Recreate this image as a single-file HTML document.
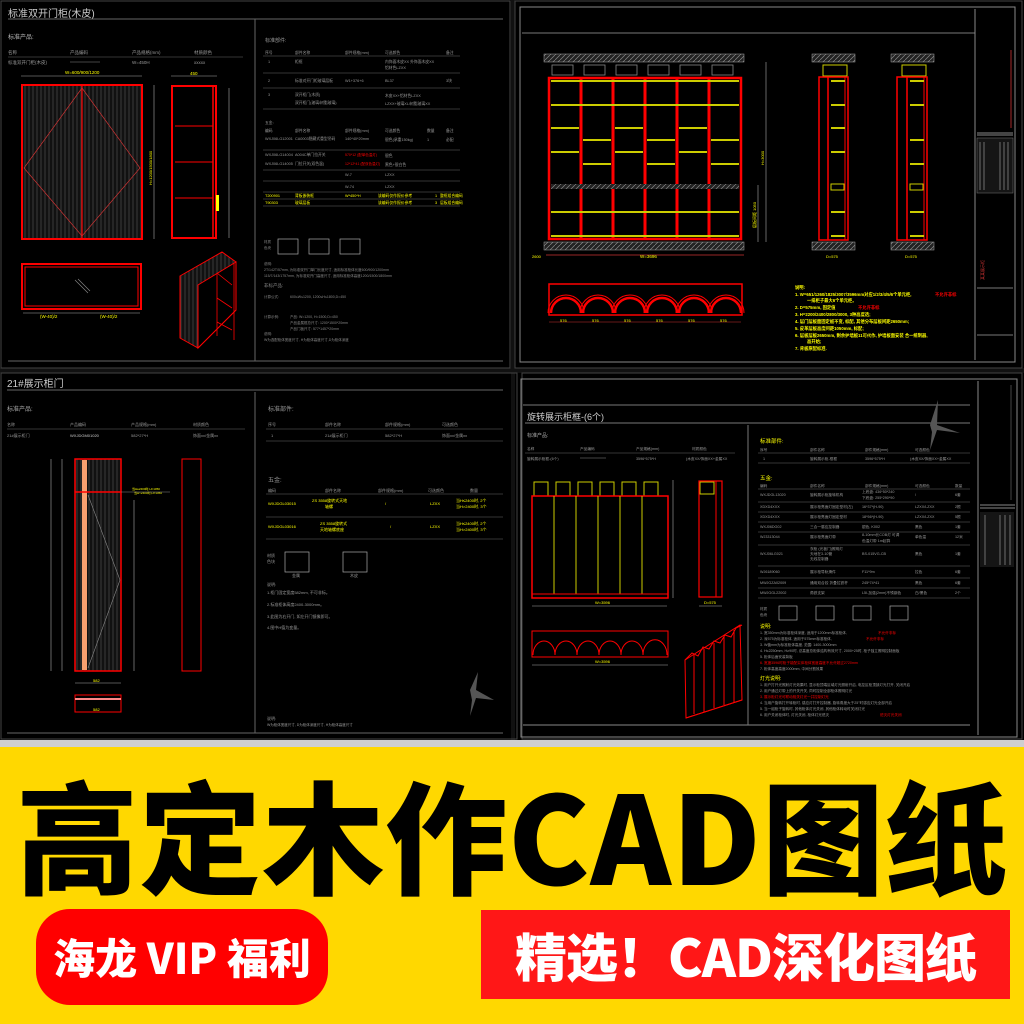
<!DOCTYPE html>
<html><head><meta charset="utf-8"><style>
html,body{margin:0;padding:0;background:#000;}
body{width:1024px;height:1024px;overflow:hidden;position:relative;font-family:"Liberation Sans","Noto Sans CJK SC",sans-serif;}
svg{position:absolute;left:0;top:0;}
.banner{position:absolute;left:0;top:747px;width:1024px;height:277px;background:#ffd800;}
.big{position:absolute;left:0;top:768px;width:1024px;text-align:center;font-family:"Noto Sans CJK SC","WenQuanYi Zen Hei",sans-serif;font-weight:900;font-size:122px;line-height:130px;color:#000;letter-spacing:1px;}
.pill{position:absolute;left:36px;top:909px;width:292px;height:96px;background:#ff0000;border-radius:34px;color:#fff;font-family:"Noto Sans CJK SC",sans-serif;font-weight:900;font-size:42px;line-height:96px;text-align:center;}
.box{position:absolute;left:481px;top:910px;width:529px;height:89px;background:#ff1717;color:#fff;font-family:"Noto Sans CJK SC",sans-serif;font-weight:900;font-size:52px;line-height:89px;text-align:center;letter-spacing:-1px;}
</style></head><body>
<svg width="1024" height="747" viewBox="0 0 1024 747" xmlns="http://www.w3.org/2000/svg" font-family="Liberation Sans, Noto Sans CJK SC, sans-serif">
<defs>
<pattern id="wood" width="4" height="10" patternUnits="userSpaceOnUse"><rect width="4" height="10" fill="#111"/><line x1="1" y1="0" x2="1" y2="10" stroke="#444" stroke-width="0.8"/></pattern>
<pattern id="hatch" width="5" height="5" patternUnits="userSpaceOnUse"><rect width="5" height="5" fill="#222"/><line x1="0" y1="5" x2="5" y2="0" stroke="#888" stroke-width="0.7"/></pattern>
</defs>
<rect width="1024" height="747" fill="#000"/>
<rect x="0" y="740" width="1024" height="7" fill="#cfcfcf"/>
<rect x="511" y="0" width="4" height="740" fill="#111"/>
<rect x="0" y="368" width="1024" height="5" fill="#111"/>
<rect x="1" y="1" width="509" height="367" fill="none" stroke="#444"/>
<rect x="515" y="1" width="507" height="367" fill="none" stroke="#444"/>
<rect x="1" y="373" width="516" height="366" fill="none" stroke="#444"/>
<rect x="522" y="373" width="500" height="366" fill="none" stroke="#444"/>

<g>
<text x="8" y="17" fill="#ccc" font-size="10">标准双开门柜(木皮)</text>
<line x1="8" y1="19" x2="503" y2="19" stroke="#666"/>
<line x1="255" y1="19" x2="255" y2="361" stroke="#666"/>
<line x1="8" y1="361" x2="503" y2="361" stroke="#666"/>
<text x="8" y="39" fill="#bbb" font-size="6">标准产品:</text>
<g fill="#999" font-size="4.5"><text x="8" y="54">名称</text><text x="70" y="54">产品编码</text><text x="132" y="54">产品规格(mm)</text><text x="194" y="54">材质颜色</text>
<text x="8" y="64">标准双开门柜(木皮)</text><text x="132" y="64">W=450H</text><text x="194" y="64">xxxxx</text></g>
<line x1="8" y1="57" x2="243" y2="57" stroke="#666" stroke-width=".6"/>
<line x1="70" y1="62" x2="100" y2="62" stroke="#888" stroke-width=".6"/>
<text x="65" y="74" fill="#ff0" font-size="4.5">W=600/900/1200</text>
<line x1="21" y1="76" x2="142" y2="76" stroke="#aaa" stroke-width=".6"/>
<rect x="22" y="85" width="120" height="154" fill="url(#wood)" stroke="#f00" stroke-width="2"/>
<line x1="82" y1="85" x2="82" y2="239" stroke="#f00" stroke-width="1.2"/>
<polyline points="24,168 82,88 140,168 82,236 24,168" fill="none" stroke="#c33" stroke-width=".7"/>
<line x1="154" y1="85" x2="154" y2="239" stroke="#aaa" stroke-width=".6"/>
<text x="152" y="185" fill="#ff0" font-size="4" transform="rotate(-90 152 185)">H=1200/1500/1800</text>
<text x="190" y="75" fill="#ff0" font-size="4.5">450</text>
<line x1="171" y1="76" x2="217" y2="76" stroke="#aaa" stroke-width=".6"/>
<rect x="172" y="86" width="44" height="152" fill="none" stroke="#f00" stroke-width="2"/>
<g stroke="#f00" stroke-width="1"><line x1="175" y1="126" x2="213" y2="126"/><line x1="175" y1="162" x2="213" y2="162"/><line x1="175" y1="198" x2="213" y2="198"/></g>
<line x1="213" y1="86" x2="213" y2="238" stroke="#f00" stroke-width="1.5"/>
<rect x="216" y="195" width="3" height="16" fill="#ff0"/>
<line x1="229" y1="88" x2="229" y2="238" stroke="#aaa" stroke-width=".6"/>
<rect x="22" y="264" width="119" height="45" fill="none" stroke="#f00" stroke-width="2"/>
<rect x="25" y="267" width="113" height="39" fill="none" stroke="#f00" stroke-width="1"/>
<line x1="75" y1="280" x2="88" y2="293" stroke="#888" stroke-width=".6"/><line x1="78" y1="279" x2="90" y2="291" stroke="#888" stroke-width=".6"/>
<text x="40" y="318" fill="#ff0" font-size="4.5">(W-40)/2</text><text x="100" y="318" fill="#ff0" font-size="4.5">(W-40)/2</text>
<line x1="23" y1="313" x2="140" y2="313" stroke="#aaa" stroke-width=".6"/>
<polygon points="180,276 222,252 236,262 236,310 198,348 180,338" fill="url(#wood)" stroke="#f00" stroke-width="1"/>
<polygon points="198,285 236,262 236,310 198,348" fill="#000" stroke="#f00" stroke-width="1"/>
<g stroke="#f00" stroke-width=".8"><line x1="217" y1="273" x2="232" y2="285"/><line x1="217" y1="298" x2="232" y2="308"/><line x1="217" y1="322" x2="232" y2="330"/><line x1="217" y1="273" x2="217" y2="336"/><line x1="234" y1="263" x2="234" y2="340"/></g>
<text x="265" y="42" fill="#999" font-size="5">标准部件:</text>
<g fill="#999" font-size="3.8">
<text x="265" y="54">序号</text><text x="295" y="54">部件名称</text><text x="345" y="54">部件规格(mm)</text><text x="385" y="54">可选颜色</text><text x="446" y="54">备注</text>
<text x="268" y="63">1</text><text x="295" y="63">柜框</text><text x="385" y="63">内饰面木皮XX 外饰面木皮XX</text><text x="385" y="69">铝材色LZXX</text>
<text x="268" y="82">2</text><text x="295" y="82">标准对开门柜玻璃层板</text><text x="345" y="82">W1+376+6</text><text x="385" y="82">BL37</text><text x="446" y="82">3块</text>
<text x="268" y="96">3</text><text x="295" y="96">双开柜门(木质)</text><text x="295" y="104">双开柜门(玻璃/树脂玻璃)</text><text x="385" y="97">木皮XX+铝材色LZXX</text><text x="385" y="105">LZXX+玻璃XL/树脂玻璃XX</text>
<text x="265" y="124">五金:</text>
<text x="265" y="132">编码</text><text x="295" y="132">部件名称</text><text x="345" y="132">部件规格(mm)</text><text x="385" y="132">可选颜色</text><text x="427" y="132">数量</text><text x="446" y="132">备注</text>
<text x="265" y="140">WXJ06LG12001</text><text x="295" y="140">CA0003隐藏式重型吊码</text><text x="345" y="140">140*40*20mm</text><text x="385" y="141">银色(承重150kg)</text><text x="427" y="141">1</text><text x="446" y="141">必配</text>
<text x="265" y="156">WXJ06LG14004</text><text x="295" y="156">A004C单门拉开关</text><text x="265" y="165">WXJ06LG14005</text><text x="295" y="165">门拉开关(双色温)</text><text x="385" y="157">银色</text><text x="385" y="166">黑色+银白色</text>
<text x="345" y="176">W-7</text><text x="385" y="176">LZXX</text><text x="345" y="188">W-74</text><text x="385" y="188">LZXX</text>
</g>
<g fill="#f00" font-size="3.5"><text x="345" y="156">570*12 (配单色温灯)</text><text x="345" y="165">12*12*41 (配双色温灯)</text></g>
<g fill="#ff0" font-size="3.8"><text x="265" y="197">T200901</text><text x="295" y="197">背板嵌装框</text><text x="345" y="197">W*450*H</text><text x="378" y="197">该编码仅作报价参考</text><text x="435" y="197">1</text><text x="440" y="197">整框组合编码</text>
<text x="265" y="204">T90303</text><text x="295" y="204">玻璃层板</text><text x="378" y="204">该编码仅作报价参考</text><text x="435" y="204">3</text><text x="440" y="204">层板组合编码</text></g>
<g stroke="#666" stroke-width=".6"><line x1="263" y1="56" x2="460" y2="56"/><line x1="263" y1="73" x2="460" y2="73"/><line x1="263" y1="88" x2="460" y2="88"/><line x1="263" y1="109" x2="460" y2="109"/><line x1="263" y1="150" x2="460" y2="150"/><line x1="263" y1="170" x2="460" y2="170"/><line x1="263" y1="181" x2="460" y2="181"/><line x1="263" y1="192" x2="460" y2="192"/><line x1="263" y1="199" x2="460" y2="199"/><line x1="263" y1="206" x2="460" y2="206"/></g>
<g fill="none" stroke="#aaa" stroke-width=".7"><rect x="278" y="239" width="20" height="15"/><rect x="309" y="239" width="20" height="15"/><rect x="340" y="239" width="20" height="15"/></g>
<g fill="#888" font-size="3.5"><text x="264" y="243">材质</text><text x="264" y="249">色块</text><text x="264" y="265">说明:</text>
<text x="264" y="271">2T/142T/57mm, 为标准双开门单门长度尺寸, 适用标准柜体长度600/900/1200mm</text>
<text x="264" y="277">115/7/143/1757mm, 为标准双开门高度尺寸, 适用标准柜体高度1200/1500/1800mm</text>
<text x="264" y="287" font-size="4.5">非标产品:</text>
<text x="264" y="298">计算公式:</text><text x="290" y="298">600≤W≤1200, 1200≤H≤1800,D=450</text>
<text x="264" y="318">计算示例:</text><text x="290" y="318">产品: W=1200, H=1500,D=450</text><text x="290" y="324">产品金属框总尺寸: 1200*1500*20mm</text><text x="290" y="330">产品门板尺寸: 577*1457*20mm</text>
<text x="264" y="335">说明:</text><text x="264" y="341">W为选配柜体宽度尺寸, H为柜体高度尺寸,D为柜体深度</text></g>
</g>

<g>
<rect x="520" y="7" width="495" height="355" fill="none" stroke="#888" stroke-width="1"/>
<line x1="522" y1="33" x2="975" y2="33" stroke="#777"/>
<line x1="975" y1="9" x2="975" y2="360" stroke="#888"/>
<line x1="977" y1="133" x2="1013" y2="133" stroke="#888"/><line x1="977" y1="135" x2="1013" y2="135" stroke="#888"/>
<rect x="977" y="138" width="36" height="55" fill="#151515" stroke="#777" stroke-width=".5"/>
<g stroke="#aaa" stroke-width=".6"><line x1="980" y1="142" x2="980" y2="190"/><line x1="984" y1="142" x2="984" y2="190"/><line x1="1000" y1="142" x2="1000" y2="190"/><line x1="1004" y1="142" x2="1004" y2="190"/><line x1="1008" y1="142" x2="1008" y2="190"/></g>
<line x1="977" y1="288" x2="1013" y2="288" stroke="#777"/><line x1="977" y1="335" x2="1013" y2="335" stroke="#777"/>
<line x1="1011" y1="50" x2="1011" y2="128" stroke="#c33" stroke-width=".8"/>
<text x="984" y="280" fill="#c33" font-size="4" transform="rotate(-90 984 280)">某某展示柜</text>
<rect x="544" y="54" width="200" height="8" fill="url(#hatch)" stroke="#aaa" stroke-width=".5"/>
<rect x="544" y="242" width="200" height="8" fill="url(#hatch)" stroke="#aaa" stroke-width=".5"/>
<g fill="none" stroke="#888" stroke-width=".8"><rect x="552" y="65" width="21" height="10"/><rect x="584" y="65" width="21" height="10"/><rect x="616" y="65" width="21" height="10"/><rect x="648" y="65" width="21" height="10"/><rect x="680" y="65" width="21" height="10"/><rect x="712" y="65" width="21" height="10"/></g>
<rect x="549" y="78" width="192" height="161" fill="none" stroke="#f00" stroke-width="2.5"/>
<g stroke="#f00" stroke-width="3"><line x1="581" y1="78" x2="581" y2="239"/><line x1="613" y1="78" x2="613" y2="239"/><line x1="645" y1="78" x2="645" y2="239"/><line x1="677" y1="78" x2="677" y2="239"/><line x1="709" y1="78" x2="709" y2="239"/></g>
<g stroke="#cc0" stroke-width="2">
<line x1="551" y1="81" x2="739" y2="81"/><line x1="551" y1="105" x2="739" y2="105"/><line x1="551" y1="212" x2="739" y2="212"/><line x1="551" y1="236" x2="739" y2="236"/>
<line x1="551" y1="128" x2="579" y2="128"/><line x1="551" y1="152" x2="579" y2="152"/>
<line x1="583" y1="140" x2="611" y2="140"/><line x1="583" y1="164" x2="611" y2="164"/>
<line x1="615" y1="128" x2="643" y2="128"/><line x1="615" y1="152" x2="643" y2="152"/>
<line x1="647" y1="140" x2="675" y2="140"/><line x1="647" y1="164" x2="675" y2="164"/>
<line x1="679" y1="128" x2="707" y2="128"/><line x1="679" y1="152" x2="707" y2="152"/>
<line x1="711" y1="140" x2="739" y2="140"/><line x1="711" y1="164" x2="739" y2="164"/></g>
<rect x="551" y="184" width="188" height="5" fill="url(#hatch)"/>
<line x1="546" y1="255" x2="744" y2="255" stroke="#c33" stroke-width=".7"/>
<text x="640" y="258" fill="#ff0" font-size="4.5">W=3696</text><text x="532" y="258" fill="#ff0" font-size="4">2600</text>
<line x1="766" y1="62" x2="766" y2="242" stroke="#aaa" stroke-width=".6"/><line x1="758" y1="185" x2="758" y2="242" stroke="#aaa" stroke-width=".6"/>
<text x="764" y="165" fill="#ff0" font-size="4" transform="rotate(-90 764 165)">H=3000</text>
<text x="756" y="228" fill="#ff0" font-size="4" transform="rotate(-90 756 228)">层板间距 1050</text>
<g>
<rect x="812" y="54" width="43" height="8" fill="url(#hatch)" stroke="#aaa" stroke-width=".5"/>
<rect x="812" y="242" width="43" height="8" fill="url(#hatch)" stroke="#aaa" stroke-width=".5"/>
<rect x="823" y="65" width="24" height="11" fill="none" stroke="#cc0" stroke-width="1"/>
<rect x="819" y="77" width="29" height="163" fill="none" stroke="#f00" stroke-width="1.5"/>
<line x1="828" y1="77" x2="828" y2="240" stroke="#f00" stroke-width="1.5"/><line x1="845" y1="77" x2="845" y2="240" stroke="#f00" stroke-width="1"/>
<g stroke="#cc0" stroke-width="2"><line x1="831" y1="81" x2="845" y2="81"/><line x1="831" y1="105" x2="845" y2="105"/><line x1="831" y1="128" x2="845" y2="128"/><line x1="831" y1="152" x2="845" y2="152"/><line x1="831" y1="212" x2="845" y2="212"/><line x1="831" y1="236" x2="845" y2="236"/></g>
<rect x="831" y="184" width="13" height="6" fill="none" stroke="#cc0"/>
<text x="826" y="258" fill="#ff0" font-size="4">D=575</text>
<rect x="891" y="54" width="43" height="8" fill="url(#hatch)" stroke="#aaa" stroke-width=".5"/>
<rect x="891" y="242" width="43" height="8" fill="url(#hatch)" stroke="#aaa" stroke-width=".5"/>
<rect x="902" y="65" width="24" height="11" fill="none" stroke="#cc0" stroke-width="1"/>
<rect x="897" y="77" width="30" height="163" fill="none" stroke="#f00" stroke-width="1.5"/>
<line x1="907" y1="77" x2="907" y2="240" stroke="#f00" stroke-width="1.5"/><line x1="924" y1="77" x2="924" y2="240" stroke="#f00" stroke-width="1"/>
<g stroke="#cc0" stroke-width="2"><line x1="910" y1="81" x2="924" y2="81"/><line x1="910" y1="105" x2="924" y2="105"/><line x1="910" y1="140" x2="924" y2="140"/><line x1="910" y1="164" x2="924" y2="164"/><line x1="910" y1="212" x2="924" y2="212"/><line x1="910" y1="236" x2="924" y2="236"/></g>
<rect x="910" y="184" width="13" height="6" fill="none" stroke="#cc0"/>
<text x="905" y="258" fill="#ff0" font-size="4">D=575</text>
</g>
<rect x="549" y="284" width="193" height="31" fill="none" stroke="#f00" stroke-width="1.5"/>
<g fill="none" stroke="#f00" stroke-width="2.5">
<path d="M551,313 A15,15 0 0 1 581,313"/><path d="M583,313 A15,15 0 0 1 613,313"/><path d="M615,313 A15,15 0 0 1 645,313"/><path d="M647,313 A15,15 0 0 1 677,313"/><path d="M679,313 A15,15 0 0 1 709,313"/><path d="M711,313 A15,15 0 0 1 741,313"/></g>
<g fill="none" stroke="#f00" stroke-width="1">
<path d="M548,313 A18,18 0 0 1 584,313"/><path d="M580,313 A18,18 0 0 1 616,313"/><path d="M612,313 A18,18 0 0 1 648,313"/><path d="M644,313 A18,18 0 0 1 680,313"/><path d="M676,313 A18,18 0 0 1 712,313"/><path d="M708,313 A18,18 0 0 1 744,313"/></g>
<line x1="549" y1="322" x2="741" y2="322" stroke="#c33" stroke-width=".6"/>
<g fill="#ff0" font-size="4"><text x="560" y="322">576</text><text x="592" y="322">576</text><text x="624" y="322">576</text><text x="656" y="322">576</text><text x="688" y="322">576</text><text x="720" y="322">576</text></g>
<g fill="#ff0" font-size="4.3" font-weight="bold">
<text x="795" y="289">说明:</text>
<text x="795" y="296">1.  W=651/1260/1825/3007/3596mm对应1/2/3/4/5/6个单元柜,</text><text x="935" y="296" fill="#f00">不允许非标</text>
<text x="807" y="302">一排柜子最大6个单元柜。</text>
<text x="795" y="309">2.  D=575mm, 固定值</text><text x="858" y="309" fill="#f00">不允许非标</text>
<text x="795" y="316">3.  H=2200/2400/2800/3000, 3种高度选;</text>
<text x="795" y="323">4.  层门层板面固定板不变, 标配, 其他分布层板间距2650mm;</text>
<text x="795" y="330">5.  皮革层板高度间距1050mm, 标配;</text>
<text x="795" y="337">6.  层板层板2650mm, 剩余护墙板11可代作, 护墙板面安装 合一统制器,</text>
<text x="807" y="343">高开始;</text>
<text x="795" y="350">7.  背板原配标准.</text></g>
</g>

<g>
<text x="7" y="387" fill="#ccc" font-size="10">21#展示柜门</text>
<line x1="7" y1="390" x2="503" y2="390" stroke="#666"/>
<line x1="255" y1="392" x2="255" y2="733" stroke="#666"/>
<line x1="7" y1="733" x2="503" y2="733" stroke="#666"/>
<text x="7" y="411" fill="#aaa" font-size="6">标准产品:</text>
<g fill="#999" font-size="4"><text x="7" y="426">名称</text><text x="70" y="426">产品编码</text><text x="131" y="426">产品规格(mm)</text><text x="193" y="426">材质颜色</text>
<text x="7" y="437">21#展示柜门</text><text x="70" y="437" fill="#ccc">WXJDGM01020</text><text x="131" y="437">582*27*H</text><text x="193" y="437">饰面xx/金属xx</text>
<text x="268" y="411" font-size="6">标准部件:</text>
<text x="268" y="426">序号</text><text x="325" y="426">部件名称</text><text x="385" y="426">部件规格(mm)</text><text x="442" y="426">可选颜色</text>
<text x="271" y="437">1</text><text x="325" y="437">21#展示柜门</text><text x="385" y="437">582*27*H</text><text x="442" y="437">饰面xx/金属xx</text>
<text x="268" y="482" font-size="6">五金:</text>
<text x="268" y="492">编码</text><text x="325" y="492">部件名称</text><text x="378" y="492">部件规格(mm)</text><text x="428" y="492">可选颜色</text><text x="470" y="492">数量</text></g>
<g stroke="#666" stroke-width=".6"><line x1="7" y1="429" x2="245" y2="429"/><line x1="266" y1="429" x2="503" y2="429"/><line x1="266" y1="441" x2="503" y2="441"/><line x1="266" y1="494" x2="503" y2="494"/><line x1="266" y1="517" x2="503" y2="517"/><line x1="266" y1="539" x2="503" y2="539"/></g>
<g fill="#ff0" font-size="4"><text x="268" y="505">WXJDGL03015</text><text x="312" y="502">ZS 3558旋转式天地</text><text x="325" y="508">轴螺</text><text x="385" y="505">/</text><text x="430" y="505">LZXX</text><text x="456" y="502">当H≤2400时, 2个</text><text x="456" y="508">当H&gt;2400时, 3个</text>
<text x="268" y="528">WXJDGL03016</text><text x="320" y="525">ZS 3558旋转式</text><text x="320" y="531">天地轴螺底座</text><text x="390" y="528">/</text><text x="430" y="528">LZXX</text><text x="456" y="525">当H≤2400时, 2个</text><text x="456" y="531">当H&gt;2400时, 3个</text></g>
<g fill="none" stroke="#aaa" stroke-width=".7"><rect x="285" y="552" width="24" height="20"/><rect x="343" y="552" width="24" height="20"/></g>
<g fill="#999" font-size="4"><text x="267" y="557">材质</text><text x="267" y="563">色块</text><text x="292" y="577">金属</text><text x="350" y="577">木皮</text>
<text x="267" y="586">说明:</text><text x="267" y="594">1.柜门固定宽度582mm, 不可非标。</text><text x="267" y="606">2.标准柜体高度2400-3000mm。</text><text x="267" y="618">3.此图为右开门, 如左开门镜像即可。</text><text x="267" y="629">4.图中H值为变量。</text>
<text x="267" y="720">说明:</text><text x="267" y="726" font-size="3.5">W为柜体宽度尺寸, D为柜体深度尺寸, H为柜体高度尺寸</text></g>
<line x1="51" y1="459" x2="51" y2="671" stroke="#aaa" stroke-width=".6"/><line x1="62" y1="459" x2="62" y2="671" stroke="#aaa" stroke-width=".6"/>
<rect x="75" y="459" width="46" height="212" fill="url(#wood)" stroke="#f00" stroke-width="1.5"/>
<rect x="82" y="460" width="5" height="210" fill="#f8a070"/>
<line x1="75" y1="492" x2="121" y2="492" stroke="#f00" stroke-width="1.5"/>
<polyline points="88,495 120,580 88,668" fill="none" stroke="#888" stroke-width=".6"/>
<line x1="134" y1="500" x2="134" y2="671" stroke="#aaa" stroke-width=".6"/>
<g fill="#ff0" font-size="3"><text x="132" y="490">当H≤2400时,H=1050</text><text x="134" y="494">当H&gt;2400时,H=1050</text></g>
<line x1="121" y1="492" x2="170" y2="492" stroke="#888" stroke-width=".5"/>
<rect x="182" y="459" width="19" height="212" fill="none" stroke="#f00" stroke-width="1"/>
<line x1="75" y1="683" x2="121" y2="683" stroke="#aaa" stroke-width=".6"/><text x="93" y="682" fill="#ff0" font-size="4">582</text>
<rect x="75" y="695" width="46" height="17" fill="none" stroke="#f00" stroke-width="1"/>
<rect x="75" y="698" width="46" height="2" fill="#f88"/>
<text x="93" y="711" fill="#ff0" font-size="4">582</text>
<path d="M470,690 L478,672 L476,690 L494,700 L476,698 L470,716 L472,700 Z" fill="#555"/>
</g>

<g>
<rect x="521" y="379" width="496" height="358" fill="none" stroke="#888"/>
<line x1="523" y1="405" x2="970" y2="405" stroke="#777"/>
<line x1="978" y1="381" x2="978" y2="735" stroke="#888"/>
<line x1="980" y1="505" x2="1015" y2="505" stroke="#888"/><line x1="980" y1="508" x2="1015" y2="508" stroke="#888"/>
<rect x="980" y="512" width="34" height="55" fill="#151515"/>
<g stroke="#aaa" stroke-width=".6"><line x1="985" y1="515" x2="985" y2="565"/><line x1="1000" y1="515" x2="1000" y2="565"/><line x1="1005" y1="515" x2="1005" y2="565"/><line x1="1010" y1="515" x2="1010" y2="565"/></g>
<line x1="1011" y1="385" x2="1011" y2="500" stroke="#888" stroke-width=".5"/>
<line x1="523" y1="725" x2="970" y2="725" stroke="#888"/>
<text x="527" y="420" fill="#ccc" font-size="9">旋转展示柜框-(6个)</text>
<line x1="525" y1="423" x2="970" y2="423" stroke="#777"/>
<line x1="748" y1="425" x2="748" y2="725" stroke="#777"/>
<path d="M930,425 L938,400 L937,425 L960,433 L937,430 L930,450 L932,432 Z" fill="#555"/>
<text x="527" y="437" fill="#aaa" font-size="5">标准产品:</text>
<g fill="#999" font-size="3.7"><text x="527" y="450">名称</text><text x="580" y="450">产品编码</text><text x="636" y="450">产品规格(mm)</text><text x="692" y="450">材质颜色</text>
<text x="527" y="460">旋转展示柜框-(6个)</text><text x="636" y="460">3596*575*H</text><text x="686" y="460">(木皮XX/饰面XX+金属XX</text>
<text x="760" y="443" font-size="5.5" fill="#ff0">标准部件:</text>
<text x="760" y="451">序号</text><text x="810" y="451">部件名称</text><text x="865" y="451">部件规格(mm)</text><text x="915" y="451">可选颜色</text>
<text x="763" y="460">1</text><text x="810" y="460">旋转展示柜-框框</text><text x="865" y="460">3596*575*H</text><text x="910" y="460">(木皮XX/饰面XX+金属XX</text>
<text x="760" y="480" font-size="5.5" fill="#ff0">五金:</text>
<text x="760" y="487">编码</text><text x="810" y="487">部件名称</text><text x="865" y="487">部件规格(mm)</text><text x="915" y="487">可选颜色</text><text x="955" y="487">数量</text>
<text x="760" y="496">WXJDGL13020</text><text x="810" y="496">旋转展示柜旋转机构</text><text x="862" y="493">上底盘: 436*50*240</text><text x="862" y="499">下底盘: 255*290*90</text><text x="915" y="496">/</text><text x="955" y="496">6套</text>
<text x="760" y="508">XDXD4XXX</text><text x="810" y="508">展示柜亮面灯固定型材(左)</text><text x="862" y="508">16*37*(H-90)</text><text x="915" y="508">LZXX/LZXX</text><text x="955" y="508">2根</text>
<text x="760" y="518">XDXD4XXX</text><text x="810" y="518">展示柜亮面灯固定型材</text><text x="862" y="518">18*56*(H-90)</text><text x="915" y="518">LZXX/LZXX</text><text x="955" y="518">5根</text>
<text x="760" y="528">WXJ06DG02</text><text x="810" y="528">三合一感应控制器</text><text x="862" y="528">银色, K002</text><text x="915" y="528">黑色</text><text x="955" y="528">1套</text>
<text x="760" y="538">WJ3313044</text><text x="810" y="538">展示柜亮面灯带</text><text x="862" y="536">8-10mm长COB灯 可调</text><text x="862" y="542">色温灯带 1m起算</text><text x="915" y="538">单色温</text><text x="955" y="538">12米</text>
<text x="760" y="555">WXJ06LG021</text><text x="810" y="550">衣柜 (光板门)照明灯</text><text x="810" y="555">天地在3-10管</text><text x="810" y="560">无线控制器</text><text x="862" y="555">BS-015VG-CB</text><text x="915" y="555">黑色</text><text x="955" y="555">1套</text>
<text x="760" y="573">WJ6189060</text><text x="810" y="573">展示柜导轨滑件</text><text x="862" y="573">F11*9m</text><text x="915" y="573">拉色</text><text x="955" y="573">6套</text>
<text x="760" y="584">MWJGZA02009</text><text x="810" y="584">通用双合铰 折叠拉铁杆</text><text x="862" y="584">245*74*41</text><text x="915" y="584">黑色</text><text x="955" y="584">6套</text>
<text x="760" y="594">MWJGGL22002</text><text x="810" y="594">角铁支架</text><text x="862" y="594">L5I-加强(2mm)不锈钢色</text><text x="915" y="594">白/黑色</text><text x="955" y="594">2个</text></g>
<g stroke="#666" stroke-width=".6"><line x1="525" y1="453" x2="735" y2="453"/><line x1="758" y1="453" x2="970" y2="453"/><line x1="758" y1="463" x2="970" y2="463"/><line x1="758" y1="489" x2="970" y2="489"/><line x1="758" y1="502" x2="970" y2="502"/><line x1="758" y1="512" x2="970" y2="512"/><line x1="758" y1="522" x2="970" y2="522"/><line x1="758" y1="532" x2="970" y2="532"/><line x1="758" y1="545" x2="970" y2="545"/><line x1="758" y1="566" x2="970" y2="566"/><line x1="758" y1="578" x2="970" y2="578"/><line x1="758" y1="588" x2="970" y2="588"/><line x1="758" y1="598" x2="970" y2="598"/></g>
<line x1="580" y1="458" x2="606" y2="458" stroke="#888" stroke-width=".6"/>
<g fill="none" stroke="#aaa" stroke-width=".7"><rect x="779" y="606" width="18" height="14"/><rect x="816" y="606" width="18" height="14"/><rect x="853" y="606" width="18" height="14"/><rect x="890" y="606" width="18" height="14"/></g>
<g font-size="3.6" fill="#999">
<text x="760" y="610">材质</text><text x="760" y="616">色块</text>
<text x="760" y="628" fill="#ff0" font-size="5">说明:</text>
<text x="760" y="634">1.  宽350mm为标准柜体深度, 适用于1200mm标准柜体, </text><text x="878" y="634" fill="#f00">不允许非标</text>
<text x="760" y="640">2.  深575为标准柜体, 适用于575mm标准柜体, </text><text x="866" y="640" fill="#f00">不允许非标</text>
<text x="760" y="646">3.  W值mm为标准柜体高度, 范围: 1400-3000mm</text>
<text x="760" y="652">4.  H≤2250mm, H≥90时, 总高度总柜体结构有效尺寸, 2000+25时, 柜子独立照明控制面板</text>
<text x="760" y="658">5.  柜体后面安装背板</text>
<text x="760" y="664" fill="#f00">6.  宽度3596时柜子能配实体柜体宽度高度不允许超过2720mm</text>
<text x="760" y="670">7.  柜体高度高度2000mm, 中间分割效果</text>
<text x="760" y="680" fill="#ff0" font-size="5">灯光说明:</text>
<text x="760" y="686">1.  用户打开光照射灯光效果时, 显示柜顶端区域灯光照射开启, 电控区柜顶部灯光打开, 关闭开启</text>
<text x="760" y="692">2.  用户通过灯带上的开关开关, 同时控制全部柜体照明灯光</text>
<text x="760" y="698" fill="#f00">3.  展示柜灯光可联动相关灯光一并控制灯光</text>
<text x="760" y="704">4.  当用户旋转打开转柜时, 感应灯打开控制器, 旋转角度大于25°时感应灯光全部开启</text>
<text x="760" y="710">5.  当一组柜子旋转时, 其他柜体灯光关闭, 其他柜体转动时关闭灯光</text>
<text x="760" y="716">6.  用户关闭柜体时, 灯光关闭, 柜体灯光熄灭</text><text x="880" y="716" fill="#f00">熄灭灯光关闭</text></g>
<g fill="none" stroke="#cc0" stroke-width="1"><rect x="534" y="482" width="14" height="14"/><rect x="556" y="482" width="14" height="14"/><rect x="578" y="482" width="14" height="14"/><rect x="600" y="482" width="14" height="14"/><rect x="622" y="482" width="14" height="14"/><rect x="644" y="482" width="14" height="14"/></g>
<rect x="532" y="496" width="136" height="102" fill="none" stroke="#f00" stroke-width="1.5"/>
<g stroke="#cc0" stroke-width="1"><line x1="554" y1="496" x2="554" y2="594"/><line x1="576" y1="496" x2="576" y2="594"/><line x1="598" y1="496" x2="598" y2="594"/><line x1="620" y1="496" x2="620" y2="594"/><line x1="642" y1="496" x2="642" y2="594"/></g>
<line x1="532" y1="594" x2="668" y2="594" stroke="#f00" stroke-width="1"/>
<line x1="532" y1="606" x2="667" y2="606" stroke="#aaa" stroke-width=".6"/><text x="595" y="604" fill="#ff0" font-size="4">W=3596</text>
<line x1="673" y1="480" x2="673" y2="598" stroke="#aaa" stroke-width=".6"/>
<rect x="700" y="482" width="14" height="12" fill="none" stroke="#cc0"/>
<rect x="699" y="481" width="23" height="116" fill="none" stroke="#f00" stroke-width="1.2"/>
<line x1="716" y1="481" x2="716" y2="597" stroke="#f00"/>
<line x1="699" y1="606" x2="722" y2="606" stroke="#aaa" stroke-width=".6"/><text x="704" y="604" fill="#ff0" font-size="4">D=575</text>
<rect x="532" y="631" width="136" height="26" fill="none" stroke="#f00" stroke-width="1"/>
<g fill="none" stroke="#f00" stroke-width="1"><path d="M533,655 A11,14 0 0 1 555,655"/><path d="M555,655 A11,14 0 0 1 577,655"/><path d="M577,655 A11,14 0 0 1 599,655"/><path d="M599,655 A11,14 0 0 1 621,655"/><path d="M621,655 A11,14 0 0 1 643,655"/><path d="M643,655 A11,14 0 0 1 667,655"/></g>
<line x1="532" y1="665" x2="668" y2="665" stroke="#aaa" stroke-width=".6"/><text x="595" y="663" fill="#ff0" font-size="4">W=3596</text>
<g fill="none" stroke="#f00" stroke-width="1">
<polygon points="685,660 740,625 742,700 686,718"/>
<path d="M685,660 L692,653 L698,656 L703,647 L709,649 L714,641 L720,643 L725,635 L731,637 L736,628 L742,625"/>
<line x1="694" y1="655" x2="694" y2="714"/><line x1="704" y1="649" x2="704" y2="712"/><line x1="714" y1="643" x2="714" y2="708"/><line x1="724" y1="637" x2="724" y2="705"/><line x1="734" y1="630" x2="734" y2="702"/>
<line x1="686" y1="718" x2="742" y2="700"/></g>
</g>
</svg>
<div class="banner"></div>
<div class="big">高定木作CAD图纸</div>
<div class="pill">海龙 VIP 福利</div>
<div class="box">精选！CAD深化图纸</div>
</body></html>
